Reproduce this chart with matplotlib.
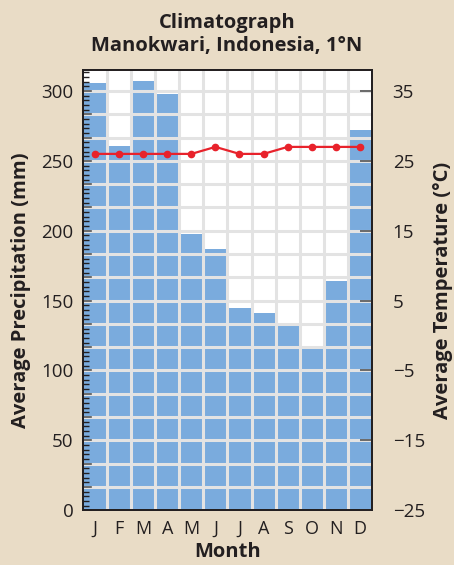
import matplotlib
matplotlib.use("Agg")
import matplotlib.pyplot as plt
import numpy as np

plt.rcParams['font.family'] = ['Open Sans', 'DejaVu Sans']

# data
months = ["J", "F", "M", "A", "M", "J", "J", "A", "S", "O", "N", "D"]
precip_mm = [306, 261, 307, 298, 198, 187, 145, 141, 132, 116, 164, 272]
temp_c = [26, 26, 26, 26, 26, 27, 26, 26, 27, 27, 27, 27]

bg = "#e9dcc6"
bar_col = "#7aabdd"
grid_col = "#e3e3e3"
red = "#e8222b"
dark = "#231f20"

fig = plt.figure(figsize=(4.54, 5.65), dpi=100, facecolor=bg)
ax = fig.add_axes([0.183, 0.097, 0.636, 0.779])
ax.set_facecolor("white")

x = np.arange(len(months))
ax.bar(x, precip_mm, width=1.0, color=bar_col, edgecolor="none", zorder=1)

# grid lines over the bars
for yy in np.arange(50 / 3, 315, 50 / 3):
    ax.axhline(yy, color=grid_col, lw=2.2, zorder=2)
for xx in x[:-1] + 0.5:
    ax.axvline(xx, color=grid_col, lw=2.2, zorder=2)

ax.set_xlim(-0.5, 11.5)
ax.set_ylim(0, 315)
ax.set_xticks(x)
ax.set_xticklabels(months, fontsize=13, color=dark)
ax.tick_params(axis="x", length=0, pad=7)
ax.set_yticks(np.arange(0, 301, 50))
ax.set_yticks(np.arange(0, 315, 10 / 3), minor=True)
ax.tick_params(axis="y", which="major", direction="in", length=0, labelsize=13.5, pad=7, labelcolor=dark)
ax.tick_params(axis="y", which="minor", direction="in", length=4, width=1.0, color=dark)
# longer ticks at every grid line
for yy in np.arange(0, 315, 50 / 3):
    ax.plot([-0.5, -0.18], [yy, yy], color="#555555", lw=1.2, zorder=3, clip_on=False)

for s in ax.spines.values():
    s.set_color(dark)
    s.set_linewidth(1.3)
    s.set_zorder(5)

ax.set_xlabel("Month", fontsize=14.5, fontweight="bold", color=dark, labelpad=3)
ax.set_ylabel("Average Precipitation (mm)", fontsize=14.5, fontweight="bold", color=dark, labelpad=7)

ax2 = ax.twinx()
ax2.set_ylim(-25, 38)
ax2.set_yticks(np.arange(-25, 36, 10))
ax2.set_yticklabels([str(v).replace("-", "\u2212") for v in range(-25, 36, 10)])
ax2.tick_params(axis="y", direction="in", length=9, width=1.2, color="#555555", labelsize=13.5, pad=15, labelcolor=dark)
ax2.plot(x, temp_c, color=red, lw=1.6, marker="o", markersize=4.5, zorder=4)
ax2.set_ylabel("Average Temperature (°C)", fontsize=14.5, fontweight="bold", color=dark, labelpad=6)
for s in ax2.spines.values():
    s.set_color(dark)
    s.set_linewidth(1.3)

fig.text(0.5, 0.960, "Climatograph", ha="center", va="center", fontsize=14.5, fontweight="bold", color=dark)
fig.text(0.5, 0.918, "Manokwari, Indonesia, 1°N", ha="center", va="center", fontsize=14.5, fontweight="bold", color=dark)

fig.savefig("out.png", dpi=100, facecolor=bg)
